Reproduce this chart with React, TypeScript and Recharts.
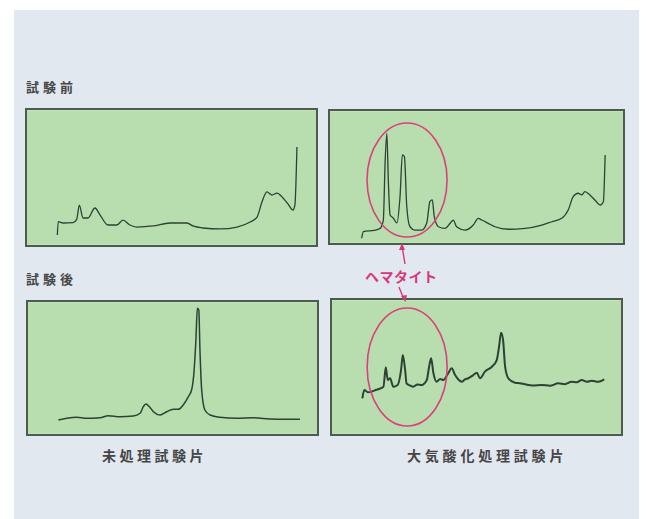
import { LineChart, Line, XAxis, YAxis, CartesianGrid, ReferenceDot } from 'recharts'

// 試験前・未処理 (top left)
const beforeUntreated = [
  { x: 10.5, y: 7.4 }, { x: 10.8, y: 17.3 }, { x: 12.5, y: 16.3 }, { x: 15.9, y: 16.5 },
  { x: 17.2, y: 19 }, { x: 18.1, y: 29.6 }, { x: 19.4, y: 20 }, { x: 21.1, y: 20 },
  { x: 23.5, y: 27.4 }, { x: 25.3, y: 22.2 }, { x: 28, y: 14.8 }, { x: 31.1, y: 14.8 },
  { x: 33.2, y: 18.5 }, { x: 35.6, y: 14.8 }, { x: 38.1, y: 13.3 }, { x: 43.6, y: 14.1 },
  { x: 49.5, y: 16.3 }, { x: 51.9, y: 16.3 }, { x: 55.4, y: 16.3 }, { x: 57.4, y: 14.1 },
  { x: 60.9, y: 12.6 }, { x: 66.8, y: 11.9 }, { x: 72.7, y: 13.3 }, { x: 77.2, y: 17 },
  { x: 79.6, y: 20.7 }, { x: 81.3, y: 31.9 }, { x: 83, y: 39.3 }, { x: 84.8, y: 37 },
  { x: 86.5, y: 38.5 }, { x: 88.6, y: 34.8 }, { x: 90.3, y: 30.4 }, { x: 92, y: 25.9 },
  { x: 92.7, y: 29.6 }, { x: 93.4, y: 72.6 },
]

// 試験前・大気酸化処理 (top right)
const beforeOxidized = [
  { x: 10.8, y: 3.6 }, { x: 11.4, y: 8.6 }, { x: 15.4, y: 9.8 }, { x: 17.1, y: 11.1 },
  { x: 18.2, y: 17.4 }, { x: 18.8, y: 60.6 }, { x: 19.4, y: 83.1 }, { x: 19.9, y: 47.7 },
  { x: 20.5, y: 21.2 }, { x: 21.6, y: 18.9 }, { x: 22.8, y: 15.2 }, { x: 23.9, y: 35.1 },
  { x: 24.7, y: 66.7 }, { x: 25.4, y: 65.4 }, { x: 26.2, y: 27.5 }, { x: 27.3, y: 12.3 },
  { x: 29, y: 9.8 }, { x: 31.3, y: 9.8 }, { x: 33, y: 14.9 }, { x: 34.1, y: 31.3 },
  { x: 34.9, y: 32.6 }, { x: 35.6, y: 19.9 }, { x: 37, y: 12.3 }, { x: 39.2, y: 11.1 },
  { x: 41, y: 14.9 }, { x: 42.1, y: 17.4 }, { x: 43.2, y: 12.3 }, { x: 46.1, y: 9.8 },
  { x: 48.9, y: 13.6 }, { x: 50.6, y: 18.7 }, { x: 51.8, y: 17.4 }, { x: 54, y: 14.9 },
  { x: 56.3, y: 12.3 }, { x: 60.9, y: 10.4 }, { x: 66.6, y: 11.1 }, { x: 72.3, y: 13.6 },
  { x: 75.7, y: 16.1 }, { x: 79.1, y: 18.7 }, { x: 81.3, y: 25 }, { x: 83, y: 35.1 },
  { x: 84.7, y: 37.7 }, { x: 85.9, y: 36.4 }, { x: 87, y: 38.9 }, { x: 88.7, y: 36.4 },
  { x: 90.4, y: 32.6 }, { x: 92.2, y: 28.8 }, { x: 93.3, y: 31.3 }, { x: 93.9, y: 66.7 },
]

// 試験後・未処理 (bottom left)
const afterUntreated = [
  { x: 10.5, y: 10.6 }, { x: 13.4, y: 11.9 }, { x: 16.9, y: 12.7 }, { x: 20.3, y: 11.9 },
  { x: 24.9, y: 12.3 }, { x: 27.8, y: 13.9 }, { x: 31.8, y: 13.1 }, { x: 36.4, y: 13.6 },
  { x: 38.8, y: 15.7 }, { x: 39.9, y: 20.7 }, { x: 40.8, y: 22.7 }, { x: 42, y: 20.7 },
  { x: 43.4, y: 16.9 }, { x: 45.7, y: 14.4 }, { x: 48, y: 16.9 }, { x: 50.3, y: 18.7 },
  { x: 52, y: 18.7 }, { x: 53.7, y: 22 }, { x: 55.5, y: 28.3 }, { x: 56.6, y: 33.3 },
  { x: 57.4, y: 46 }, { x: 58.1, y: 71.2 }, { x: 58.6, y: 95.2 }, { x: 59.1, y: 93.9 },
  { x: 59.5, y: 63.6 }, { x: 60.1, y: 33.3 }, { x: 61.2, y: 18.2 }, { x: 63, y: 14.4 },
  { x: 66.4, y: 12.7 }, { x: 72.2, y: 11.9 }, { x: 78, y: 12.3 }, { x: 83.7, y: 11.4 },
  { x: 89.5, y: 11.1 }, { x: 94.1, y: 11.1 },
]

// 試験後・大気酸化処理 (bottom right)
const afterOxidized = [
  { x: 10.5, y: 26.6 }, { x: 11.2, y: 32.8 }, { x: 12.4, y: 31.2 }, { x: 13.7, y: 31.6 },
  { x: 14.8, y: 32.6 }, { x: 16, y: 33.4 }, { x: 17.8, y: 35.3 }, { x: 18.6, y: 49.8 },
  { x: 19.3, y: 40.3 }, { x: 20.1, y: 41.6 }, { x: 21.2, y: 35.3 }, { x: 22.7, y: 36.6 },
  { x: 23.9, y: 47.8 }, { x: 24.5, y: 59 }, { x: 25.3, y: 47.8 }, { x: 25.8, y: 37.8 },
  { x: 27, y: 36.2 }, { x: 28.1, y: 35.3 }, { x: 29.6, y: 37 }, { x: 31, y: 36.6 },
  { x: 32.8, y: 40.3 }, { x: 33.6, y: 50.2 }, { x: 34.3, y: 56.5 }, { x: 35.1, y: 45.3 },
  { x: 36.2, y: 39 }, { x: 37.4, y: 41 }, { x: 38.5, y: 40.3 }, { x: 40.2, y: 45.3 },
  { x: 41.4, y: 49 }, { x: 42.6, y: 44 }, { x: 43.8, y: 40.5 }, { x: 44.9, y: 39 },
  { x: 46, y: 40.8 }, { x: 47.2, y: 41.6 }, { x: 48.9, y: 44 }, { x: 50.1, y: 45.7 },
  { x: 51.2, y: 41.6 }, { x: 52.9, y: 46.5 }, { x: 55.3, y: 50.2 }, { x: 57, y: 55.2 },
  { x: 57.8, y: 65.1 }, { x: 58.5, y: 75.6 }, { x: 59.2, y: 70.1 }, { x: 59.9, y: 50.2 },
  { x: 61, y: 41.6 }, { x: 63.3, y: 38.3 }, { x: 65, y: 37.9 }, { x: 66.8, y: 37.1 },
  { x: 69.5, y: 36.2 }, { x: 72.6, y: 36.6 }, { x: 75.4, y: 36 }, { x: 78.3, y: 37.8 },
  { x: 80.6, y: 37.2 }, { x: 82.9, y: 39 }, { x: 84.7, y: 38.6 }, { x: 86.4, y: 40.3 },
  { x: 88.2, y: 39 }, { x: 89.9, y: 39.8 }, { x: 92.1, y: 39 }, { x: 94.2, y: 40.8 },
]

const gridTicks = [16, 32, 48, 64, 80, 96]

const hematiteLabel = 'ヘマタイト'
const rowLabels = ['試験前', '試験後']
const columnLabels = ['未処理試験片', '大気酸化処理試験片']

type Pt = { x: number; y: number }

function Panel({ data, left, top, width, height, lineWidth, ellipse }: {
  data: Pt[]; left: number; top: number; width: number; height: number; lineWidth: number
  ellipse?: { x: number; y: number; rx: number; ry: number }
}) {
  return (
    <div style={{ position: 'absolute', left, top, width, height, background: '#b8deb0', border: '2px solid #4c5a50' }}>
      <LineChart width={width} height={height} data={data} margin={{ top: 0, right: 0, bottom: 0, left: 0 }}>
        <CartesianGrid vertical={false} stroke="#cbedc4" strokeWidth={1} />
        <XAxis type="number" dataKey="x" domain={[0, 100]} hide />
        <YAxis type="number" domain={[0, 100]} ticks={gridTicks} width={0} tick={false} axisLine={false} tickLine={false} />
        <Line
          type="monotone"
          dataKey="y"
          stroke="#2c4232"
          strokeWidth={lineWidth}
          dot={false}
          isAnimationActive={false}
        />
        {ellipse && (
          <ReferenceDot
            x={ellipse.x}
            y={ellipse.y}
            ifOverflow="visible"
            shape={(p: any) => (
              <ellipse cx={p.cx} cy={p.cy} rx={ellipse.rx} ry={ellipse.ry} fill="none" stroke="#dc3f7c" strokeWidth={1.6} />
            )}
          />
        )}
      </LineChart>
    </div>
  )
}

const labelStyle = {
  position: 'absolute' as const,
  color: '#454545',
  fontWeight: 700,
  whiteSpace: 'nowrap' as const,
}

export default function App() {
  return (
    <div style={{ position: 'absolute', left: 0, top: 0, width: 647, height: 519, background: '#ffffff', fontFamily: '"Noto Sans CJK JP", sans-serif' }}>
      <div style={{ position: 'absolute', left: 14, top: 10, width: 625, height: 509, background: '#e2e8f0' }} />

      <div style={{ ...labelStyle, left: 26, top: 79, fontSize: 13, lineHeight: '16px', letterSpacing: 4 }}>{rowLabels[0]}</div>
      <div style={{ ...labelStyle, left: 26, top: 271, fontSize: 13, lineHeight: '16px', letterSpacing: 4 }}>{rowLabels[1]}</div>

      <Panel data={beforeUntreated} left={25} top={108} width={289} height={135} lineWidth={1.3} />
      <Panel data={beforeOxidized} left={328} top={109} width={293} height={132} lineWidth={1.3}
        ellipse={{ x: 26.3, y: 47.7, rx: 40, ry: 57 }} />
      <Panel data={afterUntreated} left={26} top={300} width={289} height={132} lineWidth={1.5} />
      <Panel data={afterOxidized} left={330} top={298} width={289} height={134} lineWidth={2}
        ellipse={{ x: 26, y: 50, rx: 40, ry: 59 }} />

      <div style={{ ...labelStyle, left: 102, top: 446, fontSize: 14, lineHeight: '18px', letterSpacing: 3.5 }}>{columnLabels[0]}</div>
      <div style={{ ...labelStyle, left: 407, top: 446, fontSize: 14, lineHeight: '18px', letterSpacing: 3.8 }}>{columnLabels[1]}</div>

      <div style={{ ...labelStyle, left: 365, top: 267, fontSize: 14, lineHeight: '18px', letterSpacing: 0.5, color: '#d8367a' }}>{hematiteLabel}</div>

      <svg width={647} height={519} style={{ position: 'absolute', left: 0, top: 0, pointerEvents: 'none' }}>
        <line x1={405} y1={264} x2={402.5} y2={249} stroke="#d8367a" strokeWidth={1.4} />
        <polygon points="402,243 399,250 405,250" fill="#d8367a" />
        <line x1={399} y1={287} x2={403} y2={297} stroke="#d8367a" strokeWidth={1.4} />
        <polygon points="405.5,302 401,296 407,295" fill="#d8367a" />
      </svg>
    </div>
  )
}
